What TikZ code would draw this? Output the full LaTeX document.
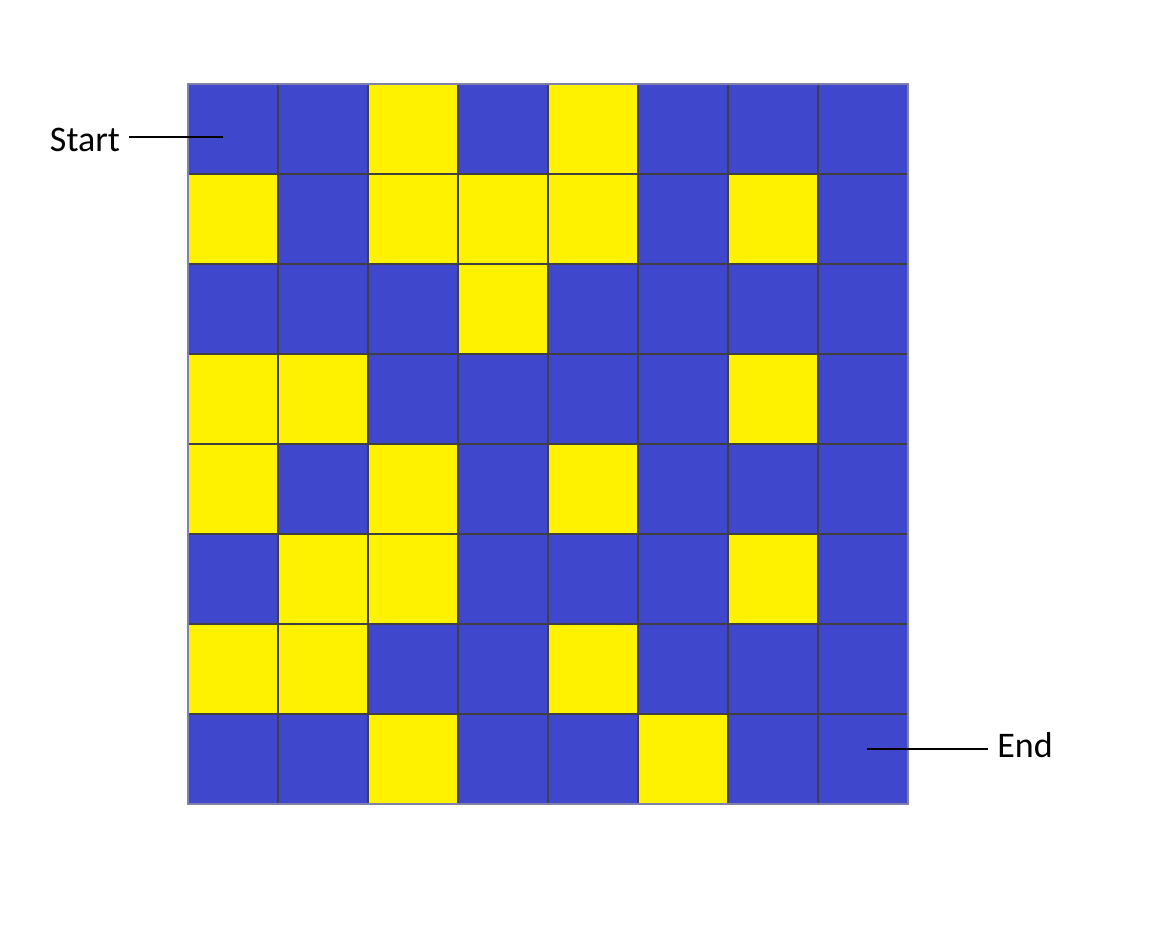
\documentclass[tikz,border=0pt]{standalone}
\usepackage{fontspec}
\setmainfont{Carlito}
\definecolor{mazeblue}{HTML}{3F48CC}
\definecolor{mazeyellow}{HTML}{FFF200}
\definecolor{rimgray}{HTML}{8080A8}
\begin{document}
\begin{tikzpicture}[x=0.02cm,y=-0.02cm, every node/.style={font=\fontsize{20.5}{24}\selectfont},
  cell/.style={draw=black!75,line width=0.6pt,fill=mazeblue,minimum size=1.8cm,inner sep=0pt,outer sep=0pt},
  lbl/.style={inner sep=0.18cm}]
\useasboundingbox (0,0) rectangle (1160,938);
% blue board
\foreach \r in {0,...,7}
  \foreach \c in {0,...,7}
    \node[cell] (c-\r-\c) at (233+90*\c,129+90*\r) {};
% yellow squares
\foreach \r/\c in {0/2,0/4,1/0,1/2,1/3,1/4,1/6,2/3,3/0,3/1,3/6,4/0,4/2,4/4,5/1,5/2,5/6,6/0,6/1,6/4,7/2,7/5}
  \node[cell,fill=mazeyellow] (y-\r-\c) at (c-\r-\c) {};
\draw[rimgray,line width=0.6pt] (c-0-0.north west) rectangle (c-7-7.south east);
% labels
\node[lbl] (start) at (85,140) {Start};
\node[lbl] (finish) at (1025,745) {End};
\coordinate (s-in) at (223,137);
\coordinate (e-in) at (867,749);
\draw[line width=0.6pt] (start.east |- s-in) -- (s-in);
\draw[line width=0.6pt] (finish.west |- e-in) -- (e-in);
\end{tikzpicture}
\end{document}
